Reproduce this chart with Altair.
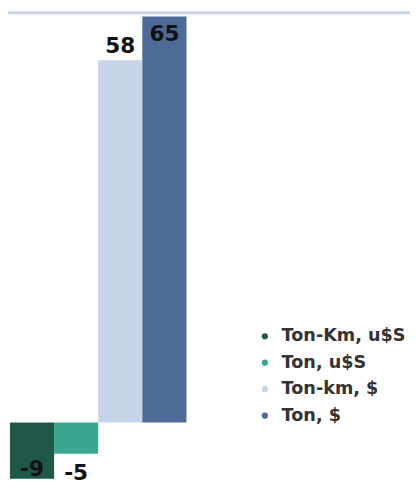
import altair as alt
import pandas as pd

categories = ["Ton-Km, u$S", "Ton, u$S", "Ton-km, $", "Ton, $"]
values = [-9, -5, 58, 65]
labels = ["-9", "-5", "58", "65"]
colors = ["#1f5748", "#3aa68f", "#c6d4ea", "#4e6a96"]

df = pd.DataFrame({"cat": categories, "value": values, "label": labels})

W, H = 410, 479
x_enc = alt.X("cat:N", sort=categories,
              scale=alt.Scale(range=[2, 182], paddingInner=0, paddingOuter=0),
              axis=None)
y_enc = alt.Y("value:Q", scale=alt.Scale(domain=[-9.58, 65.63], nice=False),
              axis=None)

base = alt.Chart(df)

bars = base.mark_bar().encode(
    x=x_enc,
    y=y_enc,
    color=alt.Color(
        "cat:N", sort=categories,
        scale=alt.Scale(domain=categories, range=colors),
        legend=alt.Legend(
            orient="none", legendX=253, legendY=321, title=None,
            symbolType="circle", symbolSize=40, symbolStrokeWidth=0,
            labelFont="DejaVu Sans", labelFontSize=18, labelFontWeight="bold",
            labelColor="#333333", rowPadding=9, labelOffset=8,
            labelLimit=300,
        ),
    ),
)

def label_layer(cat, dy):
    return base.transform_filter(alt.datum.cat == cat).mark_text(
        font="DejaVu Sans", fontSize=22, fontWeight="bold", color="#111111",
        baseline="alphabetic", align="center", dy=dy,
    ).encode(x=x_enc, y=y_enc, text="label:N")

texts = [
    label_layer("Ton-Km, u$S", -3),
    label_layer("Ton, u$S", 27),
    label_layer("Ton-km, $", -7),
    label_layer("Ton, $", 25),
]

top_line = alt.Chart(pd.DataFrame({"a": [0]})).mark_rule(
    color="#c8d4ea", strokeWidth=3
).encode(x=alt.value(-8), x2=alt.value(W + 8), y=alt.value(0))

chart = alt.layer(bars, *texts, top_line).properties(
    width=W, height=H, autosize=alt.AutoSizeParams(type="none"), padding=0
).configure_view(stroke=None)

chart.save("out.html", embed_options={"renderer": "svg", "actions": False})
